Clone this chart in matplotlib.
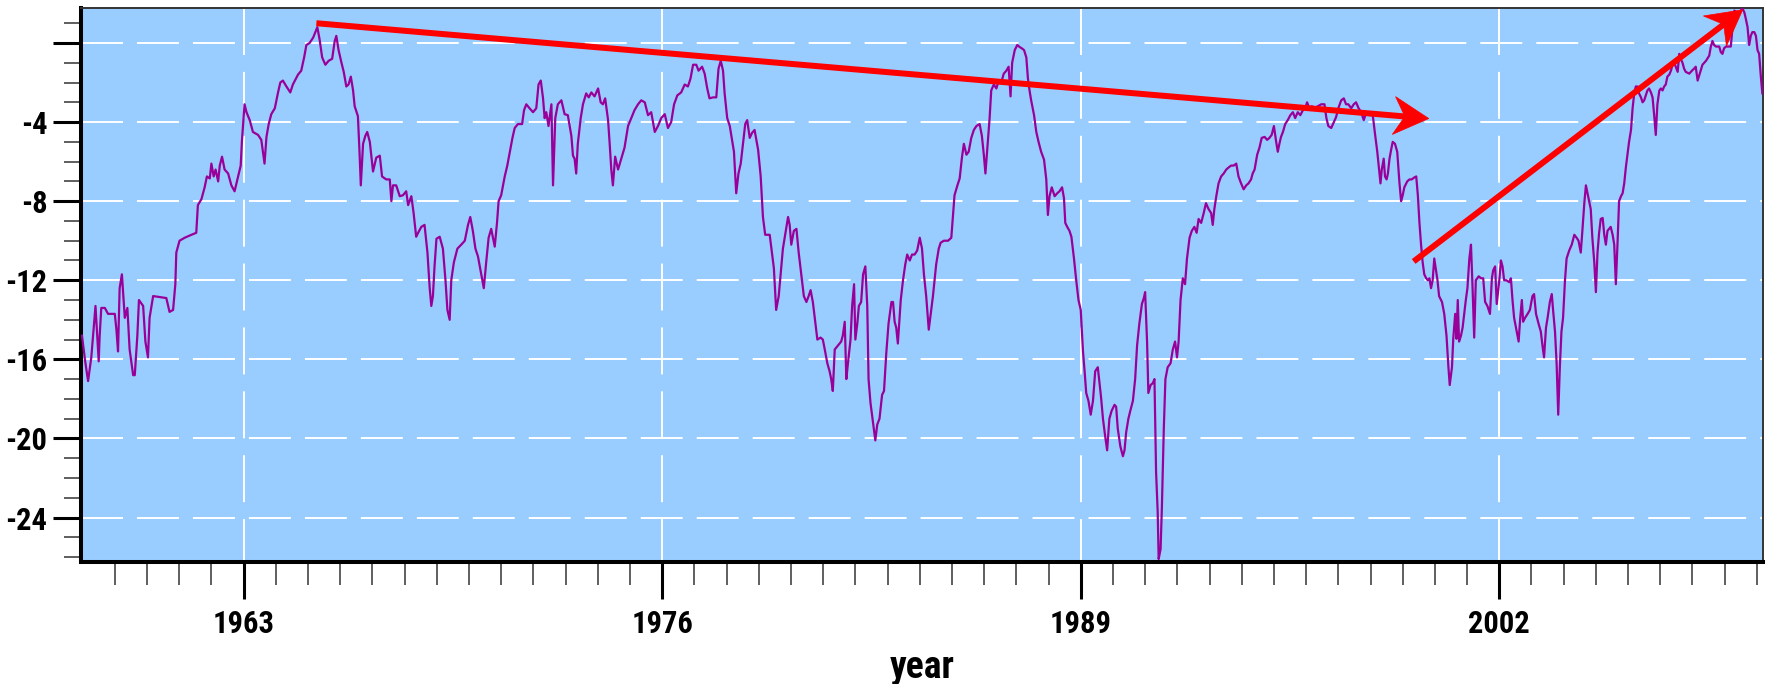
import os
import re
import numpy as np
import matplotlib
matplotlib.use("Agg")
import matplotlib.pyplot as plt
from matplotlib import font_manager as fm
from matplotlib.font_manager import FontProperties
from matplotlib.lines import Line2D
from matplotlib.patches import Polygon
from matplotlib.ticker import FixedLocator, FuncFormatter
from matplotlib.transforms import IdentityTransform

# ---- series: decimal year and value, split by decade ----
yr_a = [1957.98, 1958.08, 1958.17, 1958.27, 1958.35, 1958.40, 1958.50, 1958.53, 1958.58, 1958.69,
        1958.79, 1959.00, 1959.05, 1959.10, 1959.15, 1959.22, 1959.31, 1959.39, 1959.46, 1959.57,
        1959.62, 1959.70, 1959.75, 1959.88, 1959.95, 1960.03, 1960.08, 1960.19, 1960.60, 1960.70,
        1960.81, 1960.88, 1960.91, 1961.01, 1961.17, 1961.38, 1961.53, 1961.58, 1961.69, 1961.79,
        1961.86, 1961.95, 1962.00, 1962.07, 1962.13, 1962.21, 1962.26, 1962.33, 1962.41, 1962.52,
        1962.62, 1962.72, 1962.83, 1962.91, 1962.95, 1963.03, 1963.09, 1963.19, 1963.29, 1963.45,
        1963.55, 1963.65, 1963.71, 1963.78, 1963.86, 1963.97, 1964.07, 1964.14, 1964.22, 1964.33,
        1964.45, 1964.53, 1964.69, 1964.79, 1964.88, 1964.95, 1965.05, 1965.16, 1965.23, 1965.29,
        1965.36, 1965.44, 1965.54, 1965.64, 1965.75, 1965.83, 1965.88, 1965.95, 1966.04, 1966.11,
        1966.19, 1966.26, 1966.33, 1966.40, 1966.45, 1966.55, 1966.60, 1966.64, 1966.71, 1966.78,
        1966.84, 1966.92, 1967.02, 1967.12, 1967.23, 1967.30, 1967.43, 1967.54, 1967.59, 1967.64,
        1967.74, 1967.85, 1967.95, 1968.05, 1968.11, 1968.21, 1968.28, 1968.36]
val_a = [-14.8, -16.1, -17.1, -15.9, -14.3, -13.3, -16.1, -14.8, -13.4, -13.4,
         -13.7, -13.7, -14.5, -15.6, -12.4, -11.7, -13.9, -13.4, -15.5, -16.8,
         -16.8, -14.8, -13.0, -13.3, -15.1, -15.9, -13.9, -12.8, -12.9, -13.6,
         -13.5, -12.2, -10.6, -10.0, -9.85, -9.7, -9.6, -8.2, -7.9, -7.3,
         -6.75, -6.85, -6.1, -6.75, -6.4, -7.0, -6.2, -5.75, -6.4, -6.6,
         -7.2, -7.5, -6.75, -6.2, -4.9, -3.1, -3.5, -3.9, -4.5, -4.65,
         -4.9, -6.1, -4.75, -4.1, -3.6, -3.3, -2.5, -2.0, -1.9, -2.2,
         -2.5, -2.1, -1.6, -1.4, -0.73, -0.1, 0.0, 0.27, 0.55, 0.8,
         0.18, -0.73, -1.1, -0.9, -0.8, 0.1, 0.36, -0.36, -1.0, -1.46,
         -2.2, -2.1, -1.7, -2.4, -3.2, -3.7, -5.5, -7.2, -5.1, -4.7,
         -4.5, -5.0, -6.5, -5.8, -5.7, -6.75, -6.9, -6.9, -8.0, -7.2,
         -7.2, -7.75, -7.7, -7.5, -8.2, -7.75, -8.6, -9.8]

yr_b = [1968.42, 1968.52, 1968.62, 1968.71, 1968.78, 1968.83, 1968.88, 1968.93, 1968.99, 1969.09,
        1969.19, 1969.27, 1969.33, 1969.40, 1969.45, 1969.53, 1969.64, 1969.76, 1969.87, 1969.97,
        1970.04, 1970.12, 1970.20, 1970.28, 1970.38, 1970.46, 1970.54, 1970.61, 1970.69, 1970.80,
        1970.87, 1970.92, 1971.00, 1971.11, 1971.19, 1971.26, 1971.35, 1971.42, 1971.52, 1971.65,
        1971.71, 1971.78, 1971.88, 1971.99, 1972.09, 1972.16, 1972.23, 1972.30, 1972.35, 1972.40,
        1972.47, 1972.56, 1972.61, 1972.68, 1972.76, 1972.87, 1972.97, 1973.07, 1973.18, 1973.23,
        1973.28, 1973.33, 1973.38, 1973.47, 1973.54, 1973.64, 1973.72, 1973.80, 1973.90, 1974.01,
        1974.09, 1974.16, 1974.23, 1974.32, 1974.37, 1974.42, 1974.47, 1974.54, 1974.63, 1974.73,
        1974.83, 1974.94, 1975.04, 1975.14, 1975.25, 1975.35, 1975.46, 1975.56, 1975.66, 1975.77,
        1975.87, 1975.97, 1976.08, 1976.18, 1976.28, 1976.37, 1976.47, 1976.59, 1976.70, 1976.80,
        1976.88, 1976.96, 1977.06, 1977.13, 1977.24, 1977.32, 1977.40, 1977.47, 1977.58, 1977.68,
        1977.75, 1977.82, 1977.89, 1977.94, 1978.02, 1978.10, 1978.17, 1978.23, 1978.30, 1978.37,
        1978.44, 1978.51, 1978.58, 1978.64, 1978.72, 1978.79, 1978.87]
val_b = [-9.6, -9.3, -9.2, -10.6, -12.4, -13.3, -12.8, -11.3, -9.9, -9.8,
         -10.4, -12.0, -13.5, -14.0, -12.0, -11.1, -10.4, -10.2, -10.0, -9.2,
         -8.8, -9.5, -10.4, -10.8, -11.7, -12.4, -11.0, -9.85, -9.4, -10.3,
         -9.1, -8.0, -7.7, -6.75, -6.2, -5.6, -4.8, -4.3, -4.1, -4.1,
         -3.4, -3.1, -3.3, -3.5, -3.3, -2.1, -1.9, -2.8, -3.8, -3.5,
         -4.2, -3.1, -7.2, -3.8, -3.1, -2.9, -3.6, -3.65, -4.7, -5.7,
         -5.85, -6.6, -5.1, -3.8, -3.1, -2.55, -2.75, -2.5, -2.7, -2.3,
         -3.0, -3.1, -2.8, -3.9, -5.1, -6.4, -7.2, -5.75, -6.4, -5.85,
         -5.3, -4.2, -3.8, -3.4, -3.1, -2.9, -3.0, -3.65, -3.5, -4.5,
         -4.2, -3.8, -3.6, -4.3, -4.0, -3.1, -2.65, -2.5, -2.1, -2.2,
         -1.8, -1.1, -1.1, -1.4, -1.2, -1.55, -2.3, -2.8, -2.75, -2.75,
         -1.3, -0.9, -1.4, -2.55, -3.8, -4.2, -4.9, -5.5, -7.6, -6.6,
         -6.1, -5.1, -4.1, -3.9, -4.8, -4.55, -4.4]

yr_c = [1978.98, 1979.06, 1979.13, 1979.20, 1979.34, 1979.41, 1979.47, 1979.54, 1979.62, 1979.68,
        1979.75, 1979.82, 1979.91, 1979.96, 1980.01, 1980.09, 1980.17, 1980.24, 1980.32, 1980.40,
        1980.48, 1980.55, 1980.61, 1980.68, 1980.76, 1980.82, 1980.92, 1980.99, 1981.05, 1981.13,
        1981.20, 1981.25, 1981.30, 1981.36, 1981.46, 1981.56, 1981.61, 1981.67, 1981.72, 1981.77,
        1981.85, 1981.90, 1981.96, 1982.00, 1982.06, 1982.11, 1982.18, 1982.24, 1982.31, 1982.37,
        1982.41, 1982.47, 1982.55, 1982.62, 1982.68, 1982.75, 1982.83, 1982.89, 1982.96, 1983.03,
        1983.12, 1983.17, 1983.22, 1983.27, 1983.32, 1983.41, 1983.48, 1983.55, 1983.61, 1983.69,
        1983.76, 1983.84, 1983.92, 1984.00, 1984.07, 1984.13, 1984.20, 1984.28, 1984.34, 1984.41,
        1984.46, 1984.51, 1984.59, 1984.65, 1984.75, 1984.88, 1984.98, 1985.03, 1985.08, 1985.17,
        1985.24, 1985.31, 1985.37, 1985.45, 1985.52, 1985.60, 1985.68, 1985.76, 1985.86, 1985.93,
        1985.99, 1986.04, 1986.10, 1986.17, 1986.22, 1986.30, 1986.38, 1986.45, 1986.53, 1986.61,
        1986.69, 1986.76, 1986.82, 1986.87, 1986.95, 1987.03, 1987.10, 1987.17, 1987.24, 1987.31,
        1987.36, 1987.41, 1987.46, 1987.55, 1987.62, 1987.69, 1987.77, 1987.86, 1987.93, 1987.98,
        1988.03, 1988.10, 1988.19, 1988.27, 1988.34, 1988.42, 1988.48, 1988.52, 1988.58, 1988.65,
        1988.71, 1988.79, 1988.86, 1988.93, 1989.00, 1989.07, 1989.12, 1989.17, 1989.24, 1989.31,
        1989.38, 1989.45]
val_c = [-5.4, -6.75, -8.8, -9.7, -9.7, -10.6, -11.4, -13.5, -12.8, -11.7,
         -10.4, -9.7, -8.8, -9.2, -10.2, -9.5, -9.4, -10.6, -11.7, -12.8,
         -13.1, -12.8, -12.5, -13.1, -14.2, -15.0, -14.9, -15.0, -15.5, -16.2,
         -16.6, -17.0, -17.6, -15.5, -15.3, -15.1, -14.8, -14.1, -17.0, -16.2,
         -15.0, -13.3, -12.2, -15.0, -14.2, -13.3, -13.1, -11.7, -11.3, -13.3,
         -17.0, -18.2, -19.2, -20.1, -19.3, -19.0, -17.8, -17.6, -15.7, -14.2,
         -13.1, -13.1, -14.1, -14.4, -15.2, -13.0, -12.0, -11.2, -10.7, -11.0,
         -10.7, -10.7, -10.5, -9.85, -10.4, -11.7, -12.8, -14.5, -13.7, -12.8,
         -12.0, -11.2, -10.4, -10.1, -10.0, -10.0, -9.85, -8.8, -7.7, -7.2,
         -6.85, -5.8, -5.1, -5.65, -5.5, -4.8, -4.4, -4.2, -4.1, -4.7,
         -5.65, -6.6, -5.3, -3.8, -2.4, -2.1, -2.3, -1.9, -2.0, -1.55,
         -1.4, -1.2, -2.7, -1.0, -0.36, -0.1, -0.2, -0.27, -0.36, -0.73,
         -1.8, -2.4, -2.9, -3.65, -4.5, -5.0, -5.5, -5.9, -6.9, -8.7,
         -7.75, -7.3, -7.75, -7.6, -7.5, -7.3, -7.85, -9.1, -9.3, -9.5,
         -9.8, -10.9, -12.0, -13.0, -13.5, -15.6, -16.6, -17.7, -18.1, -18.8,
         -18.1, -16.6]

yr_d = [1989.53, 1989.63, 1989.69, 1989.76, 1989.82, 1989.89, 1989.96, 1990.05, 1990.10, 1990.15,
        1990.23, 1990.31, 1990.36, 1990.41, 1990.48, 1990.54, 1990.62, 1990.69, 1990.75, 1990.82,
        1990.90, 1990.96, 1991.00, 1991.06, 1991.10, 1991.17, 1991.24, 1991.29, 1991.34, 1991.39,
        1991.42, 1991.48, 1991.52, 1991.58, 1991.63, 1991.70, 1991.79, 1991.86, 1991.93, 1991.99,
        1992.04, 1992.10, 1992.17, 1992.24, 1992.30, 1992.38, 1992.45, 1992.53, 1992.60, 1992.66,
        1992.74, 1992.82, 1992.89, 1992.97, 1993.05, 1993.10, 1993.15, 1993.21, 1993.28, 1993.36,
        1993.44, 1993.52, 1993.59, 1993.67, 1993.75, 1993.83, 1993.90, 1993.98, 1994.06, 1994.14,
        1994.21, 1994.29, 1994.34, 1994.40, 1994.48, 1994.55, 1994.62, 1994.71, 1994.79, 1994.86,
        1994.93, 1995.00, 1995.07, 1995.12, 1995.17, 1995.22, 1995.28, 1995.35, 1995.43, 1995.51,
        1995.59, 1995.66, 1995.74, 1995.82, 1995.90, 1995.97, 1996.03, 1996.10, 1996.18, 1996.26,
        1996.36, 1996.47, 1996.57, 1996.63, 1996.69, 1996.78, 1996.86, 1996.93, 1997.00, 1997.09,
        1997.17, 1997.24, 1997.31, 1997.40, 1997.48, 1997.55, 1997.63, 1997.71, 1997.79, 1997.86,
        1997.97, 1998.07, 1998.14, 1998.21, 1998.26, 1998.31, 1998.35, 1998.41, 1998.45, 1998.50,
        1998.54, 1998.59, 1998.64, 1998.69, 1998.76, 1998.83, 1998.90, 1998.95, 1999.00, 1999.05,
        1999.14, 1999.21, 1999.28, 1999.36, 1999.42, 1999.47, 1999.52, 1999.57, 1999.62, 1999.67,
        1999.73, 1999.78, 1999.83, 1999.88, 1999.93, 1999.98]
val_d = [-16.4, -17.9, -19.0, -19.9, -20.6, -19.0, -18.6, -18.3, -18.4, -19.5,
         -20.4, -20.9, -20.6, -19.7, -19.0, -18.6, -18.1, -17.0, -15.3, -14.2,
         -13.2, -12.9, -12.6, -15.1, -17.7, -17.3, -17.2, -17.0, -21.7, -23.7,
         -26.1, -25.6, -23.5, -19.5, -17.0, -16.4, -16.2, -15.5, -15.1, -15.9,
         -15.1, -13.0, -11.9, -12.2, -10.9, -9.85, -9.5, -9.3, -9.6, -8.9,
         -9.1, -8.6, -8.1, -8.4, -8.6, -9.2, -8.4, -7.75, -7.1, -6.75,
         -6.6, -6.4, -6.3, -6.2, -6.2, -6.1, -6.75, -7.1, -7.4, -7.2,
         -7.1, -6.9, -6.6, -6.4, -5.65, -5.3, -4.8, -4.75, -4.9, -4.8,
         -4.65, -4.2, -5.0, -5.5, -5.1, -4.75, -4.5, -4.1, -3.9, -3.65,
         -3.5, -3.8, -3.5, -3.65, -3.4, -3.3, -3.0, -3.3, -3.2, -3.3,
         -3.2, -3.1, -3.1, -3.8, -4.2, -4.3, -4.0, -3.75, -3.3, -2.9,
         -2.8, -3.1, -3.1, -3.3, -3.1, -3.0, -3.3, -3.5, -3.9, -3.55,
         -3.65, -3.65, -4.6, -5.5, -6.3, -7.1, -6.4, -5.85, -6.75, -6.9,
         -6.6, -5.85, -5.4, -5.0, -5.1, -5.5, -7.1, -8.0, -7.7, -7.3,
         -7.0, -6.9, -6.9, -6.8, -6.75, -7.7, -9.1, -10.2, -11.1, -11.7,
         -11.9, -12.0, -11.9, -12.4, -12.0, -10.9]

yr_e = [2000.08, 2000.13, 2000.22, 2000.29, 2000.36, 2000.42, 2000.46, 2000.53, 2000.57, 2000.63,
        2000.67, 2000.71, 2000.75, 2000.81, 2000.86, 2000.91, 2000.96, 2001.01, 2001.07, 2001.12,
        2001.17, 2001.22, 2001.27, 2001.36, 2001.43, 2001.50, 2001.56, 2001.63, 2001.71, 2001.77,
        2001.81, 2001.87, 2001.92, 2002.00, 2002.05, 2002.10, 2002.15, 2002.22, 2002.31, 2002.36,
        2002.41, 2002.46, 2002.54, 2002.60, 2002.65, 2002.70, 2002.74, 2002.80, 2002.88, 2002.95,
        2003.03, 2003.08, 2003.14, 2003.22, 2003.29, 2003.34, 2003.39, 2003.45, 2003.50, 2003.57,
        2003.63, 2003.67, 2003.73, 2003.78, 2003.83, 2003.88, 2003.93, 2003.98, 2004.04, 2004.09,
        2004.17, 2004.25, 2004.33, 2004.40, 2004.46, 2004.53, 2004.58, 2004.64, 2004.69, 2004.74,
        2004.79, 2004.84, 2004.89, 2004.95, 2005.00, 2005.05, 2005.10, 2005.15, 2005.21, 2005.26,
        2005.31, 2005.36, 2005.41, 2005.46, 2005.52, 2005.57, 2005.62, 2005.67, 2005.72, 2005.78,
        2005.83, 2005.88, 2005.93, 2005.98, 2006.03, 2006.09, 2006.14, 2006.19, 2006.24, 2006.29,
        2006.34, 2006.40, 2006.45, 2006.50, 2006.55, 2006.60, 2006.65, 2006.71, 2006.76, 2006.81,
        2006.86, 2006.91, 2006.97, 2007.02, 2007.07, 2007.12, 2007.17, 2007.22, 2007.28, 2007.33,
        2007.38, 2007.43, 2007.48, 2007.54, 2007.59, 2007.64, 2007.69, 2007.74, 2007.79, 2007.90,
        2008.00, 2008.05, 2008.10, 2008.16, 2008.21, 2008.26, 2008.31, 2008.42, 2008.52, 2008.57,
        2008.62, 2008.67, 2008.73, 2008.83, 2008.88, 2008.93, 2008.98, 2009.04, 2009.14, 2009.19,
        2009.24, 2009.30, 2009.35, 2009.45, 2009.50, 2009.55, 2009.61, 2009.66, 2009.71, 2009.76,
        2009.81, 2009.86, 2009.92, 2009.97, 2010.02, 2010.07, 2010.12, 2010.17]
val_e = [-12.0, -12.8, -13.1, -13.7, -14.8, -16.4, -17.3, -16.4, -14.96, -13.7,
         -14.96, -13.0, -15.1, -14.8, -14.4, -13.7, -13.0, -12.4, -10.9, -10.2,
         -12.4, -14.9, -12.0, -11.8, -11.9, -11.9, -13.1, -13.3, -13.7, -11.9,
         -11.5, -11.3, -13.2, -12.0, -11.0, -11.3, -12.0, -12.0, -12.1, -11.9,
         -13.0, -13.9, -14.6, -15.1, -13.9, -13.0, -14.1, -13.9, -13.7, -13.5,
         -12.8, -12.7, -13.7, -14.2, -14.6, -15.3, -15.9, -14.4, -13.9, -13.1,
         -12.7, -13.5, -14.6, -16.2, -18.8, -16.4, -14.6, -13.9, -12.0, -10.9,
         -10.5, -10.2, -9.7, -9.85, -10.0, -10.6, -9.5, -8.1, -7.2, -7.6,
         -8.0, -8.4, -9.85, -11.1, -12.6, -10.6, -9.6, -8.9, -8.85, -9.7,
         -10.2, -9.5, -9.4, -9.3, -9.7, -10.2, -12.2, -10.2, -8.0, -7.75,
         -7.6, -7.1, -6.3, -5.65, -5.0, -4.4, -3.3, -2.55, -2.2, -2.2,
         -2.55, -2.75, -3.0, -2.9, -2.65, -2.4, -2.3, -2.5, -2.75, -3.65,
         -4.65, -3.1, -2.4, -2.3, -2.4, -2.2, -2.1, -1.7, -1.6, -1.4,
         -1.1, -1.0, -1.2, -1.46, -0.55, -0.82, -1.0, -1.3, -1.46, -1.55,
         -1.37, -1.3, -1.2, -1.9, -1.64, -1.37, -1.1, -0.9, -0.64, -0.18,
         0.1, -0.1, -0.18, -0.18, -0.46, -0.55, -0.27, -0.18, -0.18, -0.18,
         0.73, 1.64, 1.55, 1.55, 1.64, 1.75, 1.55, 1.2, 0.8, -0.1,
         0.36, 0.55, 0.55, 0.36, -0.36, -0.55, -1.64, -2.55]

# axis ticks
x_major = [1963, 1976, 1989, 2002]
x_minor = list(range(1959, 2011))
y_major = [-24, -20, -16, -12, -8, -4, 0]
y_minor = list(range(-26, 2))

# trend arrows: (start year, start value) -> (end year, end value)
arrow_down = [(1965.26, 1.0), (1999.81, -3.82)]
arrow_up = [(1999.34, -11.05), (2009.56, 1.68)]

years = np.concatenate([yr_a, yr_b, yr_c, yr_d, yr_e])
values = np.concatenate([val_a, val_b, val_c, val_d, val_e])


def narrow_bold_font():
    """Return the file of a narrow bold sans face with tall, slim digits, if installed."""
    best, best_rank = None, 99
    for f in fm.fontManager.ttflist:
        base = re.sub(r'[-_ ]', '', os.path.basename(f.fname).lower())
        name = f.name.lower()
        if 'liberation sans narrow' in name and re.search(r'bold(?!italic)', base) \
                and 'italic' not in base:
            rank = 0
        elif re.match(r'^notosans(display)?condensedbold\.', base):
            rank = 1
        elif re.match(r'^(roboto|opensans)condensedbold\.', base):
            rank = 2
        else:
            continue
        if rank < best_rank:
            best, best_rank = f.fname, rank
    return best


narrow = narrow_bold_font()
plt.rcParams['font.family'] = ['Liberation Sans', 'DejaVu Sans']
plt.rcParams['font.weight'] = 'bold'
plt.rcParams['axes.unicode_minus'] = False
plt.rcParams['lines.scale_dashes'] = False

tick_size = 22 if narrow else 20
label_size = 27 if narrow else 25


def label_font(size):
    if narrow:
        return FontProperties(fname=narrow, size=size)
    return FontProperties(family=['Liberation Sans', 'DejaVu Sans'], weight='bold', size=size)


W, H = 1776, 684
fig = plt.figure(figsize=(W / 100, H / 100), dpi=100)
ax = fig.add_axes([81 / W, 1 - 562 / H, (1763 - 81) / W, (562 - 8) / H])
ax.set_facecolor('#99CCFF')

ax.set_xlim(1957.95, 2010.19)
ax.set_ylim(-26.25, 1.77)

# dashed white grid
for v in y_major:
    ax.plot([0, 1], [v, v], transform=ax.get_yaxis_transform(), color='white',
            lw=1.4, linestyle=(0, (30.2, 10.1)), zorder=1)
for yr in x_major:
    ax.plot([yr, yr], [1, 0], transform=ax.get_xaxis_transform(), color='white',
            lw=1.4, linestyle=(0, (33.8, 12.2)), zorder=1)

ax.plot(years, values, color='#990099', lw=1.6, zorder=3)

ax.xaxis.set_major_locator(FixedLocator(x_major))
ax.xaxis.set_minor_locator(FixedLocator(x_minor))
ax.yaxis.set_major_locator(FixedLocator(y_major))
ax.yaxis.set_minor_locator(FixedLocator(y_minor))
ax.yaxis.set_major_formatter(FuncFormatter(lambda v, _: '' if v == 0 else f'{v:.0f}'))
ax.xaxis.set_major_formatter(FuncFormatter(lambda v, _: f'{v:.0f}'))

ax.tick_params(axis='y', which='major', length=20, width=2.2, pad=4.3)
ax.tick_params(axis='y', which='minor', length=12, width=1.1, color='#333333')
ax.tick_params(axis='x', which='major', length=26.6, width=2.2, pad=7)
ax.tick_params(axis='x', which='minor', length=16.6, width=1.1, color='#333333')

for lab in ax.get_xticklabels() + ax.get_yticklabels():
    lab.set_fontproperties(label_font(tick_size))

for side in ('left', 'bottom'):
    ax.spines[side].set_linewidth(2.9)
    ax.spines[side].set_color('black')
for side in ('top', 'right'):
    ax.spines[side].set_linewidth(1.4)
    ax.spines[side].set_color('#333333')

ax.set_xlabel('year', fontproperties=label_font(label_size), labelpad=7.5)


def trend_arrow(start, end, shaft_px=6.0, head_len=35.0, head_half=19.0, notch=24.0):
    """Red arrow with a swept-back head, sized in pixels."""
    p0 = ax.transData.transform(start)
    p1 = ax.transData.transform(end)
    d = p1 - p0
    u = d / np.hypot(*d)
    n = np.array([-u[1], u[0]])
    shaft_end = p1 - (notch - 1.0) * u
    fig.add_artist(Line2D([p0[0], shaft_end[0]], [p0[1], shaft_end[1]],
                          transform=IdentityTransform(), color='#FF0000',
                          lw=shaft_px * 0.72, solid_capstyle='butt', zorder=5))
    head = [p1, p1 - head_len * u + head_half * n, p1 - notch * u,
            p1 - head_len * u - head_half * n]
    fig.add_artist(Polygon(head, closed=True, transform=IdentityTransform(),
                           facecolor='#FF0000', edgecolor='#FF0000', lw=0.5, zorder=5))


trend_arrow(*arrow_down)
trend_arrow(*arrow_up)

fig.savefig('out.png', dpi=100, facecolor='white')
